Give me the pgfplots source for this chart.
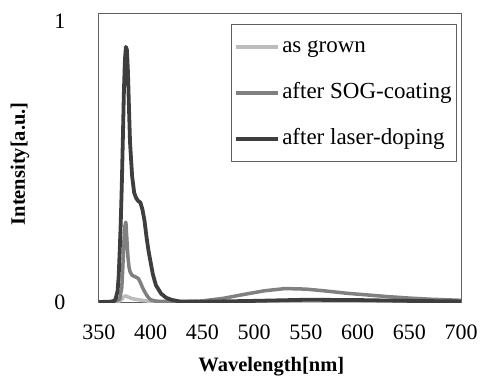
\documentclass[border=0pt]{standalone}
\usepackage{pgfplots}
\pgfplotsset{compat=1.18}
\usepackage{fontspec}
\setmainfont{Liberation Serif}
\definecolor{cgrown}{RGB}{188,188,188}
\definecolor{csog}{RGB}{128,128,128}
\definecolor{claser}{RGB}{62,62,62}
\definecolor{cframe}{RGB}{95,95,95}
\begin{document}
\begin{tikzpicture}
\useasboundingbox (-99pt,-76pt) rectangle (382pt,302pt);
\begin{axis}[
  scale only axis,
  width=362pt, height=289pt,
  xmin=350, xmax=700, ymin=0, ymax=1.031,
  xtick={350,400,...,700},
  ytick={0,1},
  major tick length=0pt,
  axis line style={cframe, line width=1pt},
  tick label style={font=\fontsize{22}{26}\selectfont},
  /pgf/number format/assume math mode=true,
  xticklabel style={yshift=-19pt},
  yticklabel style={xshift=-30pt},
  xlabel={\textbf{Wavelength[nm]}},
  ylabel={\textbf{Intensity[a.u.]}},
  label style={font=\fontsize{20.5}{24}\selectfont},
  xlabel style={at={(axis description cs:0.476,-0.222)}, anchor=center},
  ylabel style={at={(axis description cs:-0.218,0.478)}, anchor=center},
  legend style={at={(axis description cs:0.989,0.962)}, anchor=north east,
    draw=cframe, line width=1pt, font=\fontsize{23}{27}\selectfont,
    inner xsep=3pt, inner ysep=9pt, row sep=19pt,
    nodes={text height=17pt, text depth=6pt, inner sep=2pt},
    /tikz/every even column/.append style={column sep=0pt}},
  legend cell align=left,
  legend image code/.code={\draw[#1, line width=4pt] (0pt,0pt) -- (42pt,0pt);},
  line join=round,
]
\addplot[cgrown, line width=3.5pt] coordinates {
(350,0) (366,0.001) (370,0.004) (372,0.01) (374,0.019) (376,0.022) (378,0.018)
(382,0.012) (388,0.008) (395,0.004) (405,0.001) (450,0.0) (500,0.002) (550,0.003)
(600,0.002) (700,0.001)};
\addlegendentry{as grown}
\addplot[csog, line width=3.5pt] coordinates {
(350,0) (365,0.001) (370,0.01) (372,0.05) (373,0.12) (374,0.21) (375,0.27) (376,0.285)
(377,0.22) (378,0.16) (379,0.125) (380,0.108) (382,0.095) (385,0.09) (388,0.084)
(390,0.07) (392,0.052) (394,0.038) (396,0.025) (398,0.015) (400,0.008) (405,0.003)
(420,0.001) (440,0.002) (450,0.004) (470,0.013) (490,0.027) (510,0.040) (530,0.048)
(550,0.046) (570,0.039) (590,0.031) (610,0.025) (630,0.019) (650,0.014) (670,0.010)
(700,0.006)};
\addlegendentry{after SOG-coating}
\addplot[claser, line width=3.8pt] coordinates {
(350,0) (360,0.001) (364,0.003) (366,0.01) (368,0.04) (369,0.09) (370,0.18) (371,0.28)
(372,0.41) (373,0.57) (374,0.74) (375,0.86) (376,0.91) (377,0.90) (378,0.82) (379,0.69)
(380,0.57) (382,0.45) (384,0.39) (386,0.37) (388,0.36) (390,0.355) (392,0.33) (394,0.29)
(396,0.23) (398,0.18) (400,0.14) (402,0.10) (405,0.06) (410,0.03) (415,0.015)
(420,0.008) (428,0.002) (450,0.001) (500,0.004) (550,0.008) (600,0.007) (650,0.004)
(700,0.002)};
\addlegendentry{after laser-doping}
\end{axis}
\end{tikzpicture}
\end{document}
